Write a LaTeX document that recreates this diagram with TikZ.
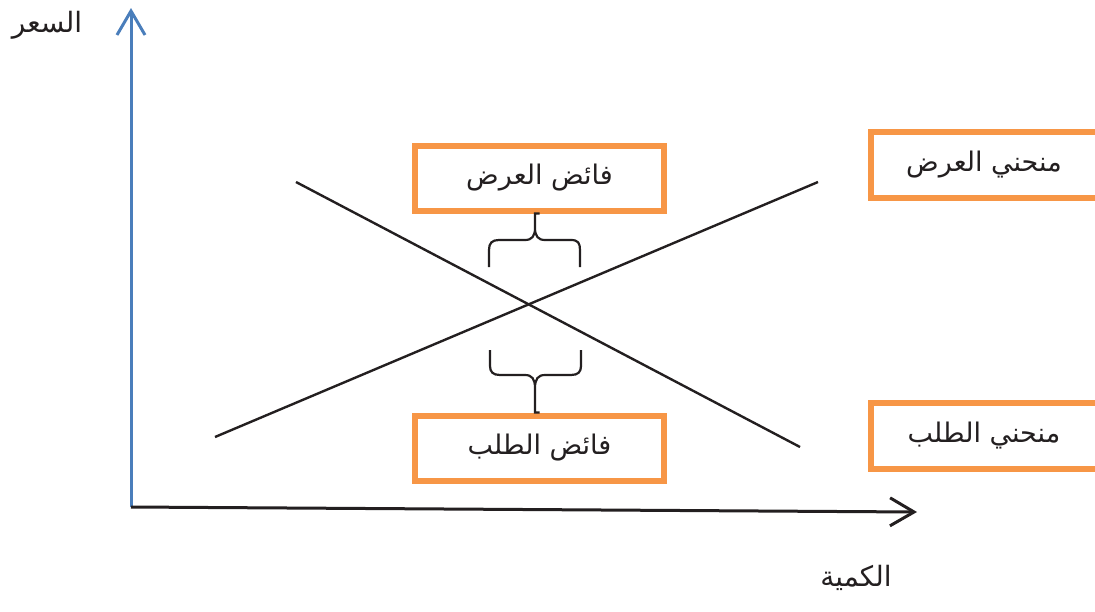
\documentclass[tikz,border=0pt]{standalone}
\usepackage{fontspec}
\usetikzlibrary{arrows.meta}
\TeXXeTstate=1
\newfontfamily\arabicfont[Script=Arabic]{DejaVu Sans}
\definecolor{boxorange}{HTML}{F79646}
\definecolor{axisblue}{HTML}{4A7EBB}
\definecolor{inkgray}{HTML}{231F20}
\begin{document}
\begin{tikzpicture}[x=1pt,y=-1pt,
  lbox/.style={draw=boxorange,line width=6pt,fill=white,inner sep=0pt,
    minimum width=249pt,minimum height=65pt,font=\arabicfont\fontsize{27}{30}\selectfont,text=inkgray},
  rbox/.style={lbox,minimum width=227pt,minimum height=66pt},
  lbl/.style={font=\arabicfont\fontsize{28}{32}\selectfont,text=inkgray},
  curve/.style={draw=inkgray,line width=2.4pt},
  bracestyle/.style={draw=inkgray,line width=2.2pt},
  tipstyle/.style={-{Straight Barb[length=24pt,width=28pt]}}]
\useasboundingbox (0,0) rectangle (1095,611);
% axes
\coordinate (O) at (131,507);
\coordinate (Ytop) at (131,8);
\coordinate (Xend) at (917,512);
\draw[axisblue,line width=3pt,tipstyle] (O) -- (Ytop);
\draw[inkgray,line width=3pt,tipstyle] (O) -- (Xend);
% curves
\coordinate (S1) at (215,437);
\coordinate (S2) at (818,182);
\coordinate (D1) at (296,182);
\coordinate (D2) at (800,447);
\draw[curve] (S1) -- (S2);
\draw[curve] (D1) -- (D2);
% boxes
\node[lbox] (surplusS) at (539.5,178) {\beginR فائض العرض\endR};
\node[lbox] (surplusD) at (539.5,448) {\beginR فائض الطلب\endR};
\node[rbox] (supplyC) at (984,165) {\beginR منحني العرض\endR};
\node[rbox] (demandC) at (984,436) {\beginR منحني الطلب\endR};
% axis labels
\node[lbl] (price) at (47,25) {\beginR السعر\endR};
\node[lbl] (qty) at (856,578) {\beginR الكمية\endR};
% braces
\draw[bracestyle] (489,267) -- (489,250) .. controls (489,243) and (492,240) .. (499,240)
  -- (525,240) .. controls (532,240) and (535,236) .. (535,228) |- (surplusS.south)
  (535,228) .. controls (535,236) and (538,240) .. (545,240) -- (571,240)
  .. controls (578,240) and (580,243) .. (580,250) -- (580,267);
\draw[bracestyle] (490,350) -- (490,366) .. controls (490,372) and (493,375) .. (500,375)
  -- (525,375) .. controls (532,375) and (535,379) .. (535,388) |- (surplusD.north)
  (535,388) .. controls (535,379) and (538,375) .. (545,375) -- (571,375)
  .. controls (578,375) and (581,372) .. (581,366) -- (581,350);
\end{tikzpicture}
\end{document}
